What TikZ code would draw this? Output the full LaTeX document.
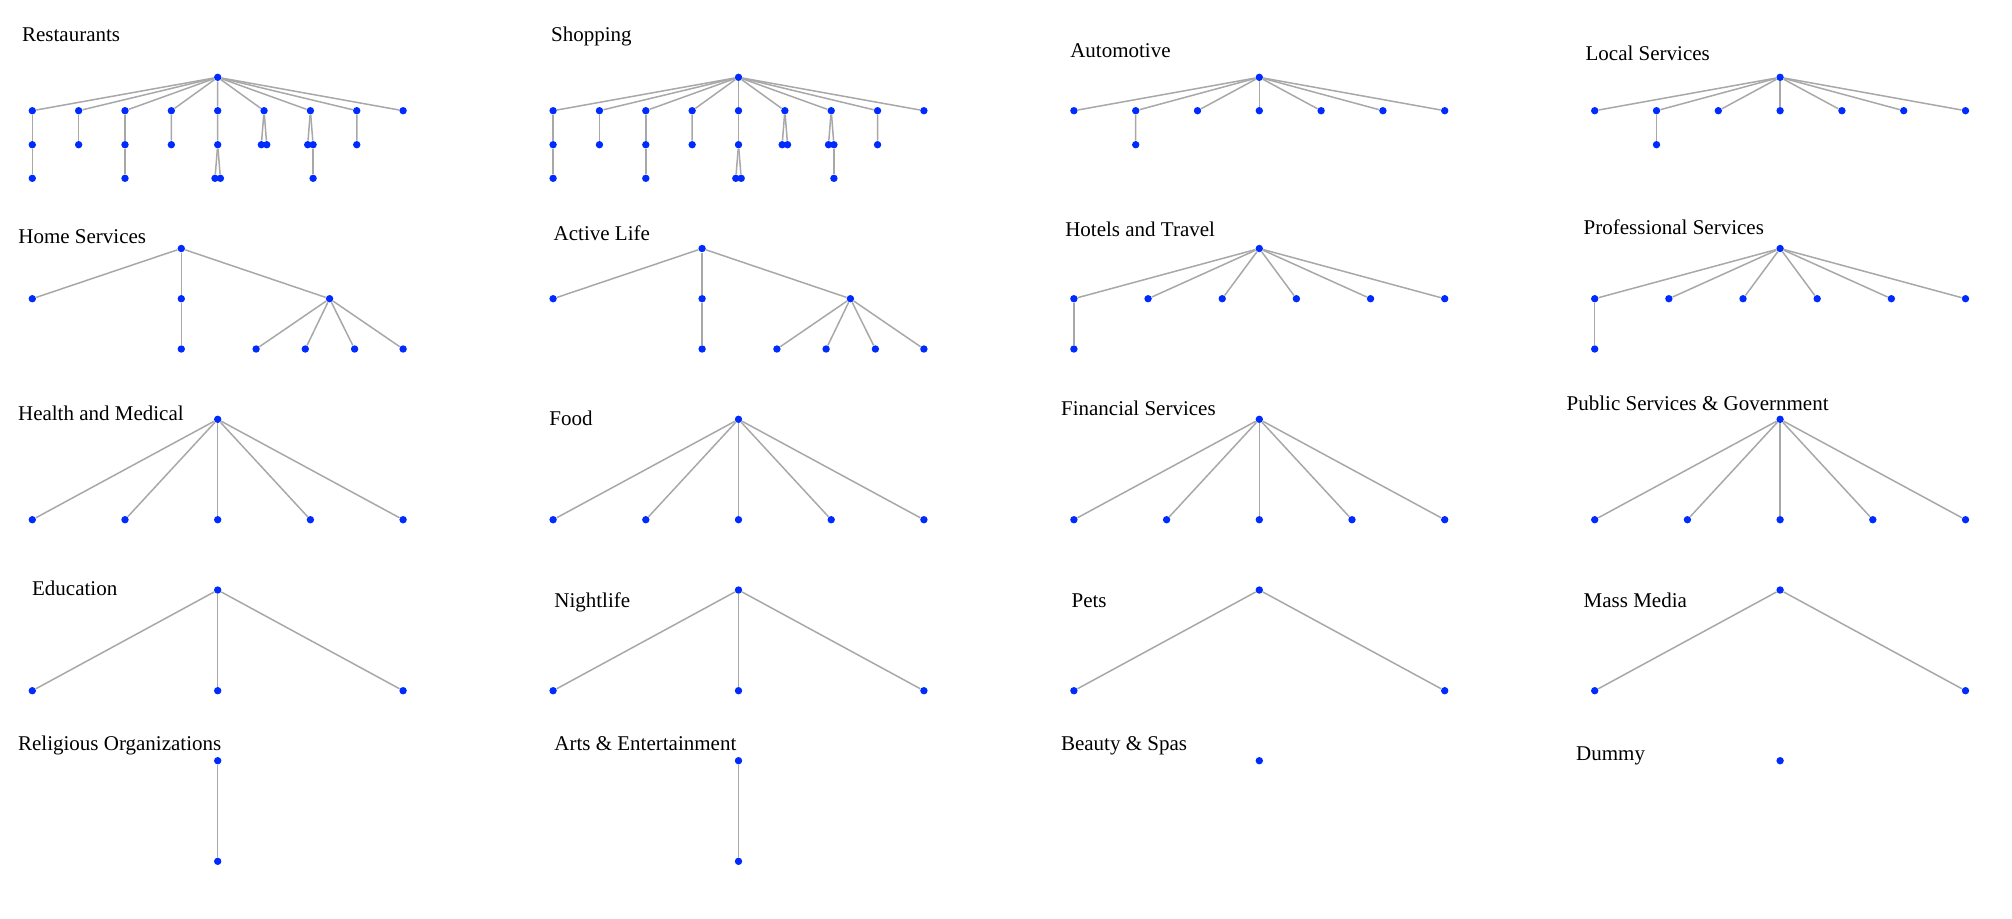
\documentclass[tikz,border=0pt]{standalone}
\usepackage{fontspec}
\setmainfont{Liberation Serif}
\usepackage{tikz}

\definecolor{dotblue}{RGB}{0,43,255}
\definecolor{edgegray}{RGB}{168,168,168}

\begin{document}
\begin{tikzpicture}[x=0.5pt, y=-0.5pt,
    dot/.style={circle, fill=dotblue, inner sep=0pt, minimum size=3.7pt},
    edge/.style={edgegray, line width=0.75pt},
    ttl/.style={anchor=base west, inner sep=0pt, font=\fontsize{10.5}{12}\selectfont}]
  \useasboundingbox (0,0) rectangle (2012,918);

  % === ROW 1 ===
  % Restaurants, Shopping
  \foreach \cx/\nm/\tx/\lab in {217.7/ra/21.7/Restaurants, 738.5/sh/550.7/Shopping} {
    \node[ttl] (\nm-t) at (\tx,41.7) {\lab};
    \begin{scope}[shift={(\cx,77.3)}]
      \node[dot] (\nm-r) at (0,0) {};
      \foreach \i in {0,...,8} {
        \node[dot] (\nm-\i) at ({-185.4+46.35*\i},33.4) {};
        \draw[edge] (\nm-r) -- (\nm-\i);
      }
      % deeper levels: child/parent/x/y
      \foreach \c/\p/\x/\y in {0a/0/-185.4/67.4, 1a/1/-139.05/67.4, 2a/2/-92.7/67.4,
          3a/3/-46.35/67.4, 4a/4/0/67.4, 5a/5/43.65/67.4, 5b/5/49.05/67.4,
          6a/6/90/67.4, 6b/6/95.4/67.4, 7a/7/139.05/67.4,
          0b/0a/-185.4/101, 2b/2a/-92.7/101, 4b/4a/-2.7/101, 4c/4a/2.7/101, 6c/6b/95.4/101} {
        \node[dot] (\nm-\c) at (\x,\y) {};
        \draw[edge] (\nm-\p) -- (\nm-\c);
      }
    \end{scope}
  }

  % Automotive, Local Services
  \foreach \cx/\nm/\tx/\ty/\lab in {1259.3/au/1069.9/57.3/Automotive, 1780.1/ls/1585.2/60.7/Local Services} {
    \node[ttl] (\nm-t) at (\tx,\ty) {\lab};
    \begin{scope}[shift={(\cx,77.3)}]
      \node[dot] (\nm-r) at (0,0) {};
      \foreach \i in {0,...,6} {
        \node[dot] (\nm-\i) at ({-185.4+61.8*\i},33.4) {};
        \draw[edge] (\nm-r) -- (\nm-\i);
      }
      \node[dot] (\nm-1a) at (-123.6,67.4) {};
      \draw[edge] (\nm-1) -- (\nm-1a);
    \end{scope}
  }

  % === ROW 2 ===
  % Home Services, Active Life
  \foreach \cx/\nm/\tx/\ty/\lab in {217.7/hs/18/243.5/Home Services, 738.5/al/553.3/240.5/Active Life} {
    \node[ttl] (\nm-t) at (\tx,\ty) {\lab};
    \begin{scope}[shift={(\cx,248.5)}]
      \node[dot] (\nm-r) at (-36.4,0) {};
      \foreach \c/\p/\x/\y in {0/r/-185.4/50.2, 1/r/-36.4/50.2, 2/r/111.9/50.2,
          1a/1/-36.4/100.5, 2a/2/38.4/100.5, 2b/2/87.6/100.5, 2c/2/136.9/100.5, 2d/2/185.4/100.5} {
        \node[dot] (\nm-\c) at (\x,\y) {};
        \draw[edge] (\nm-\p) -- (\nm-\c);
      }
    \end{scope}
  }

  % Hotels and Travel, Professional Services
  \foreach \cx/\nm/\tx/\ty/\lab in {1259.3/ht/1064.9/236.5/Hotels and Travel, 1780.1/ps/1583.3/234/Professional Services} {
    \node[ttl] (\nm-t) at (\tx,\ty) {\lab};
    \begin{scope}[shift={(\cx,248.5)}]
      \node[dot] (\nm-r) at (0,0) {};
      \foreach \i in {0,...,5} {
        \node[dot] (\nm-\i) at ({-185.4+74.16*\i},50.2) {};
        \draw[edge] (\nm-r) -- (\nm-\i);
      }
      \node[dot] (\nm-0a) at (-185.4,100.5) {};
      \draw[edge] (\nm-0) -- (\nm-0a);
    \end{scope}
  }

  % === ROW 3 ===
  \foreach \cx/\nm/\tx/\ty/\lab in {217.7/hm/17.7/420/Health and Medical, 738.5/fo/549/425/Food,
      1259.3/fs/1060.7/415/Financial Services, 1780.1/pg/1566.3/410/Public Services \& Government} {
    \node[ttl] (\nm-t) at (\tx,\ty) {\lab};
    \begin{scope}[shift={(\cx,419.3)}]
      \node[dot] (\nm-r) at (0,0) {};
      \foreach \i in {0,...,4} {
        \node[dot] (\nm-\i) at ({-185.4+92.7*\i},100.4) {};
        \draw[edge] (\nm-r) -- (\nm-\i);
      }
    \end{scope}
  }

  % === ROW 4 ===
  % Education, Nightlife
  \foreach \cx/\nm/\tx/\ty/\lab in {217.7/ed/31.7/595/Education, 738.5/nl/554/607/Nightlife} {
    \node[ttl] (\nm-t) at (\tx,\ty) {\lab};
    \begin{scope}[shift={(\cx,590)}]
      \node[dot] (\nm-r) at (0,0) {};
      \foreach \i in {0,1,2} {
        \node[dot] (\nm-\i) at ({-185.4+185.4*\i},100.7) {};
        \draw[edge] (\nm-r) -- (\nm-\i);
      }
    \end{scope}
  }

  % Pets, Mass Media
  \foreach \cx/\nm/\tx/\lab in {1259.3/pe/1071.2/Pets, 1780.1/mm/1583.3/Mass Media} {
    \node[ttl] (\nm-t) at (\tx,607.3) {\lab};
    \begin{scope}[shift={(\cx,590)}]
      \node[dot] (\nm-r) at (0,0) {};
      \foreach \i in {0,1} {
        \node[dot] (\nm-\i) at ({-185.4+370.8*\i},100.7) {};
        \draw[edge] (\nm-r) -- (\nm-\i);
      }
    \end{scope}
  }

  % === ROW 5 ===
  % Religious Organizations, Arts & Entertainment
  \foreach \cx/\nm/\tx/\lab in {217.7/ro/17.7/Religious Organizations, 738.5/ae/554/Arts \& Entertainment} {
    \node[ttl] (\nm-t) at (\tx,750) {\lab};
    \node[dot] (\nm-r) at (\cx,760.7) {};
    \node[dot] (\nm-0) at (\cx,861.3) {};
    \draw[edge] (\nm-r) -- (\nm-0);
  }

  % Beauty & Spas, Dummy (single node)
  \foreach \cx/\nm/\tx/\ty/\lab in {1259.3/bs/1060.6/750/Beauty \& Spas, 1780.1/du/1575.8/760/Dummy} {
    \node[ttl] (\nm-t) at (\tx,\ty) {\lab};
    \node[dot] (\nm-r) at (\cx,760.7) {};
  }
\end{tikzpicture}
\end{document}
